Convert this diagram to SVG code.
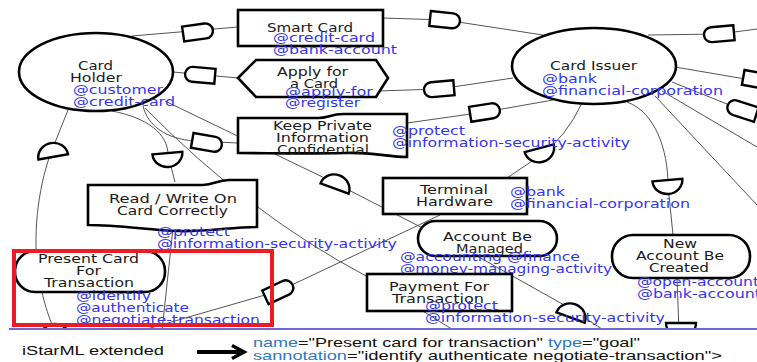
<svg xmlns="http://www.w3.org/2000/svg" width="757" height="362" viewBox="0 0 757 362">
<defs>
<style>
.n{fill:#fff;stroke:#000;stroke-width:2.6}
.c{fill:none;stroke:#555;stroke-width:1}
.d{fill:#fff;stroke:#000;stroke-width:2.4}
text{font-family:"DejaVu Sans","Liberation Sans",sans-serif;font-size:11.5px}
.t{fill:#1a1a1a}
.a{fill:#3535f0}
.b{font-family:"Liberation Sans",Arial,sans-serif;font-size:13px;fill:#111}
.k{fill:#2f78c4}
</style>
<path id="dR" d="M-15,-7.5H7.5A7.5,7.5 0 0 1 7.5,7.5H-15Z"/>
<path id="dL" d="M15,-7.5H-7.5A7.5,7.5 0 0 0 -7.5,7.5H15Z"/>
<path id="dB" d="M-15,-7H15A15,14 0 0 1 -15,-7Z"/>
<path id="dT" d="M-15,7H15A15,14 0 0 0 -15,7Z"/>
</defs>
<rect width="757" height="362" fill="#fff"/>

<g id="connectors">
<path class="c" d="M132,36 L238,27"/>
<path class="c" d="M383,18 L445,20 L543,35"/>
<path class="c" d="M173,72 L238,78"/>
<path class="c" d="M377,91 L439,89 L513,78"/>
<path class="c" d="M407,123 L485,112 L553,100"/>
<path class="c" d="M143,106 C148,126 166,139 195,141 L238,143"/>
<path class="c" d="M112,111 C148,118 168,134 168,155 L175,182"/>
<path class="c" d="M68,110 L52,150 C40,180 32,230 38,270 C42,300 50,320 55,332"/>
<path class="c" d="M165,101 L337,184 L477,256 L573,310 L605,331"/>
<path class="c" d="M145,108 Q250,215 368,277 L455,331"/>
<path class="c" d="M173,228 L162,331"/>
<path class="c" d="M140,331 L279,291 L440,215"/>
<path class="c" d="M582,103 Q566,137 541,155 L507,178"/>
<path class="c" d="M627,102 C655,112 668,150 668,185 L673,235"/>
<path class="c" d="M677,278 L679,331"/>
<path class="c" d="M648,35 L719,34 L757,29"/>
<path class="c" d="M675,67 L757,81"/>
<path class="c" d="M672,82 L742,110 L757,117"/>
<path class="c" d="M662,91 L757,147"/>
<path class="c" d="M655,96 L757,205"/>
<use href="#dR" class="d" transform="translate(198,32) rotate(-8)"/>
<use href="#dR" class="d" transform="translate(445,20) rotate(6)"/>
<use href="#dL" class="d" transform="translate(200,75) rotate(5)"/>
<use href="#dL" class="d" transform="translate(439,89) rotate(-5)"/>
<use href="#dR" class="d" transform="translate(485,112) rotate(-9)"/>
<use href="#dR" class="d" transform="translate(207,143) rotate(10)"/>
<use href="#dB" class="d" transform="translate(168,160) rotate(-5)"/>
<use href="#dT" class="d" transform="translate(52,150) rotate(-10)"/>
<use href="#dT" class="d" transform="translate(337,182) rotate(20)"/>
<use href="#dB" class="d" transform="translate(541,155) rotate(-15)"/>
<use href="#dB" class="d" transform="translate(668,187) rotate(-5)"/>
<use href="#dL" class="d" transform="translate(719,34) rotate(-5)"/>
<use href="#dR" class="d" transform="translate(758,80) rotate(10)"/>
<use href="#dL" class="d" transform="translate(742,110) rotate(18)"/>
<use href="#dT" class="d" transform="translate(573,311) rotate(20)"/>
<use href="#dT" class="d" transform="translate(55,331)"/>
<use href="#dB" class="d" transform="translate(681,330)"/>
<use href="#dR" class="d" transform="translate(279,291) rotate(-25)"/>
</g>

<g id="card-holder">
<ellipse class="n" cx="96" cy="72" rx="77" ry="39"/>
<text class="t" x="78" y="70" textLength="35" lengthAdjust="spacingAndGlyphs">Card</text>
<text class="t" x="70" y="82" textLength="52" lengthAdjust="spacingAndGlyphs">Holder</text>
<text class="a" x="73" y="94" textLength="90" lengthAdjust="spacingAndGlyphs">@customer</text>
<text class="a" x="73" y="106" textLength="102" lengthAdjust="spacingAndGlyphs">@credit-card</text>
</g>

<g id="smart-card">
<rect class="n" x="238" y="10" width="145" height="36"/>
<text class="t" x="267" y="32" textLength="86" lengthAdjust="spacingAndGlyphs">Smart Card</text>
<text class="a" x="273" y="42" textLength="102" lengthAdjust="spacingAndGlyphs">@credit-card</text>
<text class="a" x="273" y="54" textLength="124" lengthAdjust="spacingAndGlyphs">@bank-account</text>
</g>

<g id="apply-for-a-card">
<polygon class="n" points="238,78 256,60 376,60 388,78 376,97 256,97"/>
<text class="t" x="277" y="76" textLength="71" lengthAdjust="spacingAndGlyphs">Apply for</text>
<text class="t" x="290" y="88" textLength="48" lengthAdjust="spacingAndGlyphs">a Card</text>
<text class="a" x="285" y="96" textLength="88" lengthAdjust="spacingAndGlyphs">@apply-for</text>
<text class="a" x="285" y="107" textLength="75" lengthAdjust="spacingAndGlyphs">@register</text>
</g>

<g id="keep-private-information-confidential">
<path class="n" d="M238,118 L318,118 C328,118 331,114 343,114 L407,114 L407,157 C388,157 372,152 345,153 C300,154 268,153 238,153 Z"/>
<text class="t" x="273" y="130" textLength="99" lengthAdjust="spacingAndGlyphs">Keep Private</text>
<text class="t" x="276" y="142" textLength="93" lengthAdjust="spacingAndGlyphs">Information</text>
<text class="t" x="277" y="154" textLength="92" lengthAdjust="spacingAndGlyphs">Confidential</text>
<text class="a" x="392" y="135" textLength="73" lengthAdjust="spacingAndGlyphs">@protect</text>
<text class="a" x="392" y="147" textLength="238" lengthAdjust="spacingAndGlyphs">@information-security-activity</text>
</g>

<g id="card-issuer">
<ellipse class="n" cx="594" cy="66" rx="82" ry="38"/>
<text class="t" x="550" y="70" textLength="87" lengthAdjust="spacingAndGlyphs">Card Issuer</text>
<text class="a" x="542" y="83" textLength="55" lengthAdjust="spacingAndGlyphs">@bank</text>
<text class="a" x="542" y="95" textLength="181" lengthAdjust="spacingAndGlyphs">@financial-corporation</text>
</g>

<g id="read-write-on-card-correctly">
<path class="n" d="M88,185 L203,185 C214,185 217,180 229,180 L257,180 L257,227 C232,227 205,232 178,231 C150,230 118,225 88,225 Z"/>
<text class="t" x="109" y="203" textLength="128" lengthAdjust="spacingAndGlyphs">Read / Write On</text>
<text class="t" x="117" y="215" textLength="111" lengthAdjust="spacingAndGlyphs">Card Correctly</text>
<text class="a" x="157" y="236" textLength="73" lengthAdjust="spacingAndGlyphs">@protect</text>
<text class="a" x="157" y="248" textLength="240" lengthAdjust="spacingAndGlyphs">@information-security-activity</text>
</g>

<g id="terminal-hardware">
<rect class="n" x="383" y="178" width="144" height="36"/>
<text class="t" x="420" y="194" textLength="68" lengthAdjust="spacingAndGlyphs">Terminal</text>
<text class="t" x="416" y="206" textLength="77" lengthAdjust="spacingAndGlyphs">Hardware</text>
<text class="a" x="510" y="196" textLength="55" lengthAdjust="spacingAndGlyphs">@bank</text>
<text class="a" x="510" y="208" textLength="180" lengthAdjust="spacingAndGlyphs">@financial-corporation</text>
</g>

<g id="account-be-managed">
<rect class="n" x="418" y="221" width="139" height="35" rx="17.5"/>
<text class="t" x="443" y="241" textLength="89" lengthAdjust="spacingAndGlyphs">Account Be</text>
<text class="t" x="456" y="253" textLength="67" lengthAdjust="spacingAndGlyphs">Managed</text>
<text class="a" x="400" y="261" textLength="180" lengthAdjust="spacingAndGlyphs">@accounting @finance</text>
<text class="a" x="400" y="273" textLength="212" lengthAdjust="spacingAndGlyphs">@money-managing-activity</text>
</g>

<g id="payment-for-transaction">
<rect class="n" x="367" y="274" width="145" height="37"/>
<text class="t" x="389" y="291" textLength="100" lengthAdjust="spacingAndGlyphs">Payment For</text>
<text class="t" x="392" y="303" textLength="92" lengthAdjust="spacingAndGlyphs">Transaction</text>
<text class="a" x="425" y="310" textLength="73" lengthAdjust="spacingAndGlyphs">@protect</text>
<text class="a" x="425" y="322" textLength="240" lengthAdjust="spacingAndGlyphs">@information-security-activity</text>
</g>

<g id="new-account-be-created">
<rect class="n" x="612" y="235" width="138" height="43" rx="21"/>
<text class="t" x="663" y="248" textLength="34" lengthAdjust="spacingAndGlyphs">New</text>
<text class="t" x="636" y="260" textLength="88" lengthAdjust="spacingAndGlyphs">Account Be</text>
<text class="t" x="649" y="272" textLength="60" lengthAdjust="spacingAndGlyphs">Created</text>
<text class="a" x="637" y="286" textLength="122" lengthAdjust="spacingAndGlyphs">@open-account</text>
<text class="a" x="637" y="298" textLength="124" lengthAdjust="spacingAndGlyphs">@bank-account</text>
</g>

<g id="present-card-for-transaction">
<rect class="n" x="15" y="251" width="150" height="41" rx="20"/>
<text class="t" x="38" y="263" textLength="101" lengthAdjust="spacingAndGlyphs">Present Card</text>
<text class="t" x="76" y="275" textLength="25" lengthAdjust="spacingAndGlyphs">For</text>
<text class="t" x="44" y="287" textLength="90" lengthAdjust="spacingAndGlyphs">Transaction</text>
<text class="a" x="76" y="300" textLength="75" lengthAdjust="spacingAndGlyphs">@identify</text>
<text class="a" x="76" y="312" textLength="113" lengthAdjust="spacingAndGlyphs">@authenticate</text>
<text class="a" x="76" y="324" textLength="184" lengthAdjust="spacingAndGlyphs">@negotiate-transaction</text>
</g>

<g id="highlight">
<rect x="14" y="251" width="258" height="74" fill="none" stroke="#ec1c24" stroke-width="4"/>
</g>

<g id="legend">
<rect x="0" y="329" width="757" height="33" fill="#fff"/>
<line x1="9" y1="329" x2="757" y2="329" stroke="#6a6ad8" stroke-width="2"/>
<text class="b" x="22" y="355" textLength="142" lengthAdjust="spacingAndGlyphs">iStarML extended</text>
<line x1="197" y1="352" x2="240" y2="352" stroke="#000" stroke-width="4"/>
<polyline points="232,345.5 244,352 232,358.5" fill="none" stroke="#000" stroke-width="3.5"/>
<text class="b k" x="253" y="347" textLength="45" lengthAdjust="spacingAndGlyphs">name</text>
<text class="b" x="298" y="347" textLength="245" lengthAdjust="spacingAndGlyphs">="Present card for transaction"</text>
<text class="b k" x="548" y="347" textLength="34" lengthAdjust="spacingAndGlyphs">type</text>
<text class="b" x="582" y="347" textLength="58" lengthAdjust="spacingAndGlyphs">="goal"</text>
<text class="b k" x="253" y="360" textLength="94" lengthAdjust="spacingAndGlyphs">sannotation</text>
<text class="b" x="347" y="360" textLength="375" lengthAdjust="spacingAndGlyphs">="identify authenticate negotiate-transaction"&gt;</text>
</g>
</svg>
